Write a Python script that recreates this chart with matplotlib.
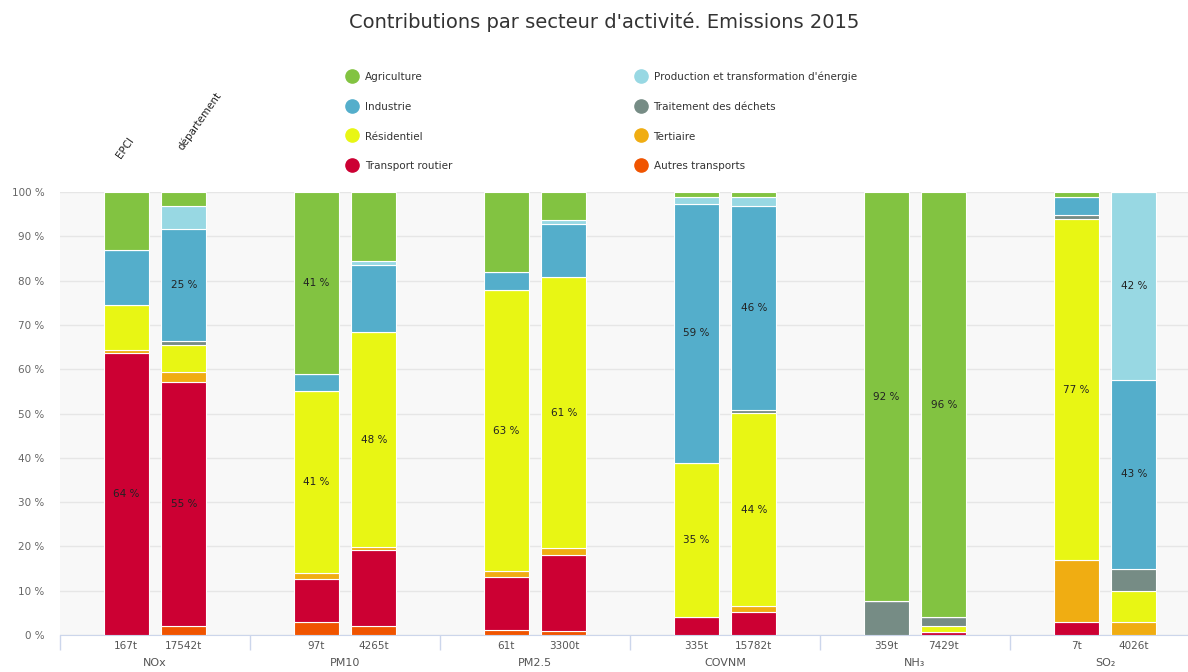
import matplotlib
matplotlib.use("Agg")
import matplotlib.pyplot as plt
import matplotlib.transforms as mtransforms
from matplotlib.lines import Line2D
import numpy as np

# categories and bars
pollutants = ["NOx", "PM10", "PM2.5", "COVNM", "NH\u2083", "SO\u2082"]
territories = ["EPCI", "département"]
totals = ["167t", "17542t", "97t", "4265t", "61t", "3300t",
          "335t", "15782t", "359t", "7429t", "7t", "4026t"]

# % per sector, order: (EPCI, département) for each pollutant
autres_transports = [0, 2.0, 2.9, 2.0, 1.1, 0.9, 0, 0, 0, 0, 0, 0]
transport_routier = [63.6, 55.1, 9.8, 17.2, 12.1, 17.2, 4.0, 5.3, 0, 0.6, 2.9, 0]
tertiaire = [0.8, 2.3, 1.2, 0.7, 1.2, 1.6, 0, 1.2, 0, 0, 14.0, 2.9]
residentiel = [10.0, 6.1, 41.2, 48.4, 63.4, 61.0, 34.8, 43.6, 0, 1.5, 76.9, 7.1]
dechets = [0, 0.9, 0, 0, 0, 0, 0, 0.7, 7.6, 1.9, 1.0, 4.9]
industrie = [12.6, 25.2, 3.8, 15.2, 4.2, 12.0, 58.6, 46.0, 0, 0, 4.1, 42.7]
energie = [0, 5.2, 0, 1.0, 0, 1.0, 1.5, 2.1, 0, 0, 0, 42.4]
agriculture = [13.0, 3.2, 41.1, 15.5, 18.0, 6.3, 1.1, 1.1, 92.4, 96.0, 1.1, 0]

# stacking order bottom -> top
series = [
    ("Autres transports", autres_transports, "#f05400"),
    ("Transport routier", transport_routier, "#cc0033"),
    ("Tertiaire", tertiaire, "#f0ad12"),
    ("Résidentiel", residentiel, "#e8f614"),
    ("Traitement des déchets", dechets, "#768c85"),
    ("Industrie", industrie, "#54aecb"),
    ("Production et transformation d'énergie", energie, "#98d8e3"),
    ("Agriculture", agriculture, "#82c341"),
]
legend_order = ["Agriculture", "Industrie", "Résidentiel", "Transport routier",
                "Production et transformation d'énergie", "Traitement des déchets",
                "Tertiaire", "Autres transports"]

W, H = 1188, 672
fig = plt.figure(figsize=(W / 100, H / 100), dpi=100)
ax = fig.add_axes([60 / W, 37 / H, 1 - 60 / W, 443 / H])
ax.set_facecolor("#f8f8f8")

cat = np.arange(len(pollutants))
off = 0.152
xpos = np.ravel(np.column_stack([cat - off, cat + off]))
width = 0.237

bottom = np.zeros(len(xpos))
for name, vals, col in series:
    vals = np.array(vals, dtype=float)
    ax.bar(xpos, vals, width, bottom=bottom, color=col,
           edgecolor="white", linewidth=0.8, zorder=3)
    for x, b, v in zip(xpos, bottom, vals):
        if v >= 20:
            ax.text(x, b + v / 2, f"{round(v)} %", ha="center", va="center",
                    fontsize=7.5, color="#222222", zorder=4)
    bottom += vals

ax.set_xlim(-0.5, (W - 60) / 190 - 0.5)
ax.set_ylim(0, 100)
ax.set_yticks(np.arange(0, 101, 10))
ax.set_yticklabels([f"{v} %" for v in range(0, 101, 10)])
ax.tick_params(axis="y", length=0, pad=11, labelsize=7.5, labelcolor="#666666")
ax.grid(axis="y", color="#e6e6e6", linewidth=1, zorder=0)
ax.set_axisbelow(True)

ax.set_xticks(xpos)
ax.set_xticklabels(totals)
ax.tick_params(axis="x", length=0, pad=4, labelsize=7.5, labelcolor="#555555")
ax.set_xticks(np.arange(len(pollutants)) - 0.5, minor=True)
ax.tick_params(axis="x", which="minor", length=11, color="#ccd6eb", width=1)

for s in ["top", "right", "left"]:
    ax.spines[s].set_visible(False)
ax.spines["bottom"].set_color("#ccd6eb")

trans = mtransforms.blended_transform_factory(ax.transData, ax.transAxes)
for i, p in enumerate(pollutants):
    ax.text(i, -28 / 443, p, transform=trans, ha="center", va="center",
            fontsize=8, color="#555555")

# territory labels above the first group
ax.text(xpos[0] - 0.02, 1 + 32 / 443, territories[0], transform=trans,
        rotation=55, rotation_mode="anchor", ha="left", va="bottom",
        fontsize=7.5, color="#222222")
ax.text(xpos[1] + 0.005, 1 + 40 / 443, territories[1], transform=trans,
        rotation=55, rotation_mode="anchor", ha="left", va="bottom",
        fontsize=7.5, color="#222222")

fig.suptitle("Contributions par secteur d'activité. Emissions 2015",
             x=604 / W, y=1 - 22 / H, va="center", fontsize=14, color="#333333")

colors = {n: c for n, _, c in series}
handles = [Line2D([], [], marker="o", linestyle="", markersize=9.5,
                  markerfacecolor=colors[n], markeredgecolor=colors[n])
           for n in legend_order]
fig.legend(handles, legend_order,
           loc="upper left", bbox_to_anchor=(347 / W, 1 - 72 / H),
           ncol=2, frameon=False, fontsize=7.5, labelcolor="#333333",
           handlelength=1.0, handleheight=1.0, handletextpad=0.72,
           labelspacing=1.85, columnspacing=17.6, borderpad=0,
           borderaxespad=0)

fig.savefig("out.png", dpi=100, facecolor="white")
